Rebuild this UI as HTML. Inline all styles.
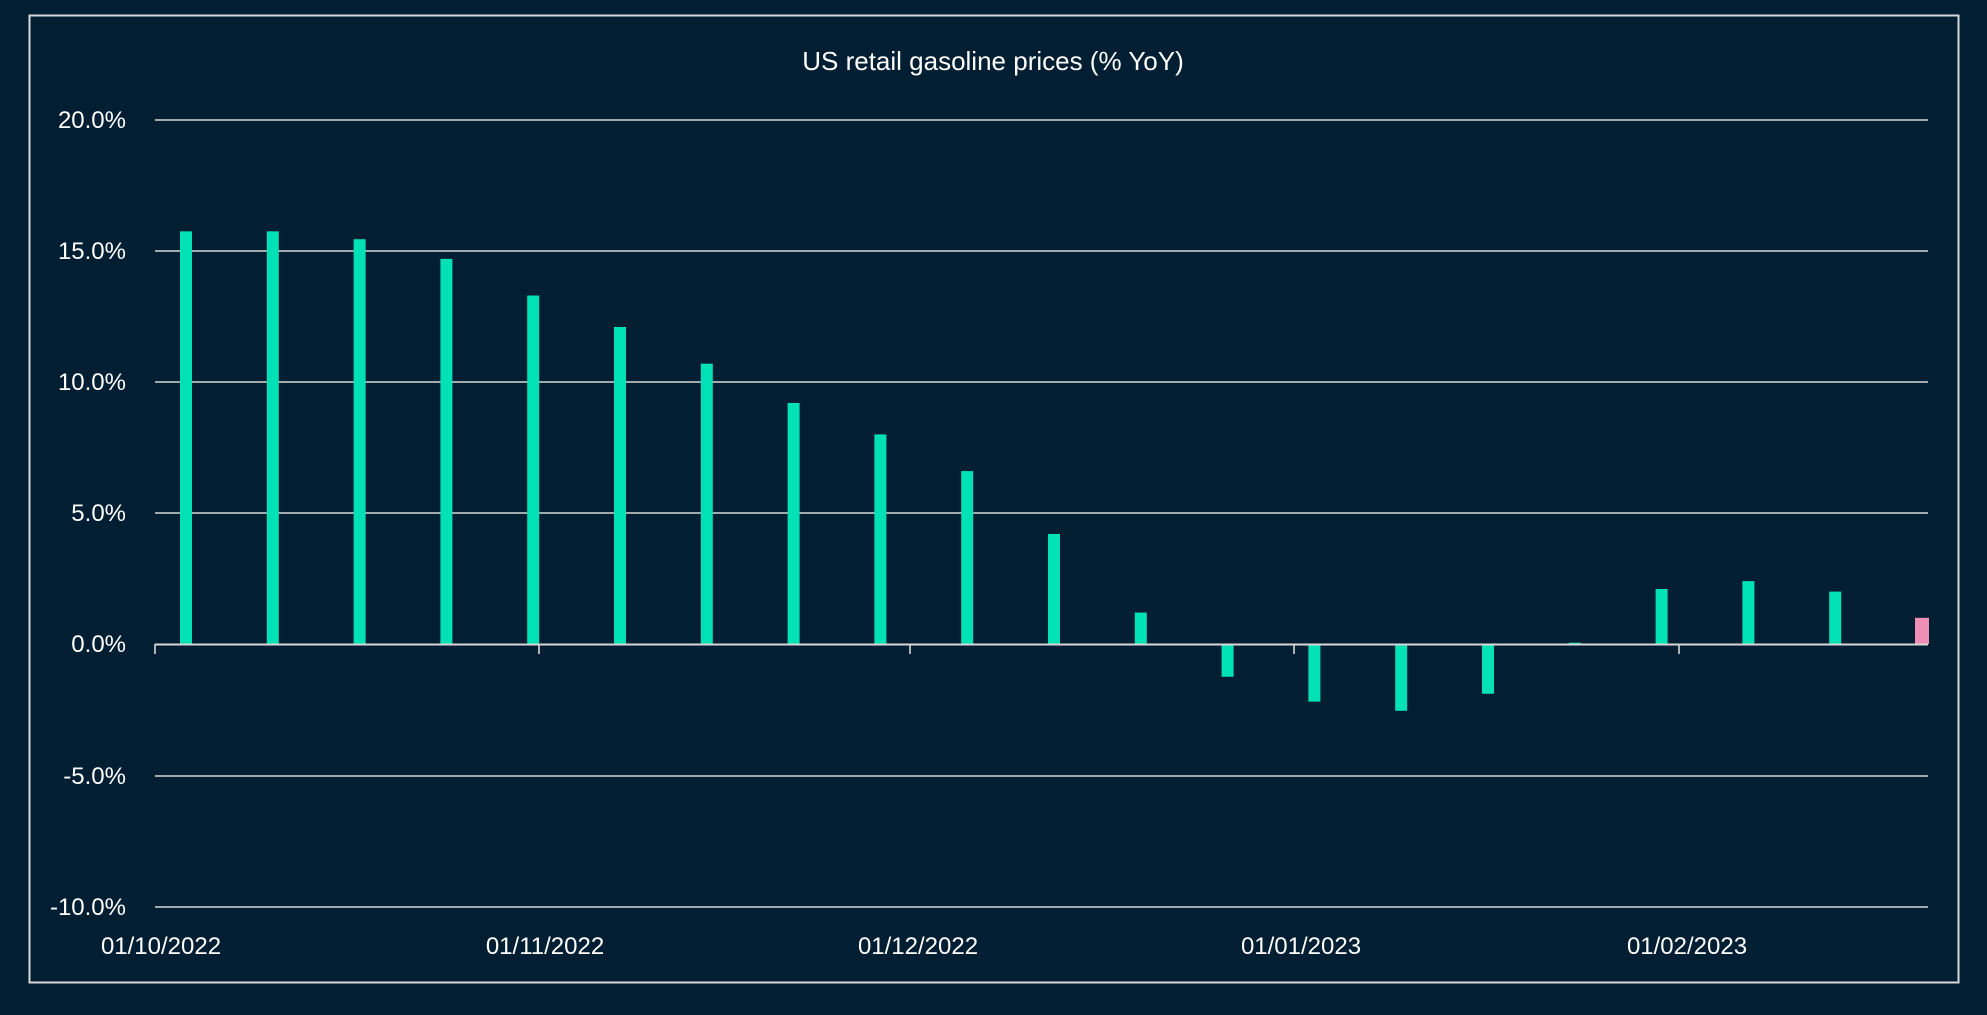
<!DOCTYPE html>
<html><head><meta charset="utf-8"><style>
html,body{margin:0;padding:0;background:#011e32;}
svg{display:block}
text{font-family:"Liberation Sans",sans-serif;fill:#fff}
</style></head><body>
<svg width="1987" height="1015" viewBox="0 0 1987 1015">
<rect width="1987" height="1015" fill="#011e32"/>
<rect x="29.5" y="15.5" width="1929" height="967" fill="none" stroke="#d8d8d8" stroke-width="2"/>
<text x="993" y="70" font-size="26" text-anchor="middle">US retail gasoline prices (% YoY)</text>
<g stroke="#d8d8d8" stroke-width="1.6">
<line x1="155" x2="1928" y1="120" y2="120"/>
<line x1="155" x2="1928" y1="251" y2="251"/>
<line x1="155" x2="1928" y1="382" y2="382"/>
<line x1="155" x2="1928" y1="513" y2="513"/>
<line x1="155" x2="1928" y1="776" y2="776"/>
<line x1="155" x2="1928" y1="907" y2="907"/>
</g>
<g font-size="24" text-anchor="end">
<text x="126" y="128">20.0%</text>
<text x="126" y="259">15.0%</text>
<text x="126" y="390">10.0%</text>
<text x="126" y="521">5.0%</text>
<text x="126" y="652">0.0%</text>
<text x="126" y="784">-5.0%</text>
<text x="126" y="915">-10.0%</text>
</g>
<g fill="#00e2b6" id="bars"></g>
<line x1="155" x2="1928" y1="644.5" y2="644.5" stroke="#d8d8d8" stroke-width="2"/>
<g stroke="#d8d8d8" stroke-width="1.6">
<line x1="155" x2="155" y1="644" y2="654"/>
<line x1="539" x2="539" y1="644" y2="654"/>
<line x1="910" x2="910" y1="644" y2="654"/>
<line x1="1294" x2="1294" y1="644" y2="654"/>
<line x1="1679" x2="1679" y1="644" y2="654"/>
</g>
<g font-size="24" text-anchor="middle">
<text x="161" y="954">01/10/2022</text>
<text x="545" y="954">01/11/2022</text>
<text x="918" y="954">01/12/2022</text>
<text x="1301" y="954">01/01/2023</text>
<text x="1687" y="954">01/02/2023</text>
</g>
</svg>
<script>
var v=[15.75,15.75,15.45,14.7,13.3,12.1,10.7,9.2,8.0,6.6,4.2,1.2,-1.25,-2.2,-2.55,-1.9,0.05,2.1,2.4,2.0,1.0];
var g=document.getElementById('bars'),ns="http://www.w3.org/2000/svg";
for(var i=0;i<v.length;i++){var c=186+i*86.8,h=v[i]*26.2,r=document.createElementNS(ns,'rect');
var w=(i==20)?14:12;r.setAttribute('x',c-w/2);r.setAttribute('width',w);
r.setAttribute('y',h>0?644-h:644);r.setAttribute('height',Math.abs(h));
if(i==20)r.setAttribute('fill','#f08fb5');g.appendChild(r);}
</script>
</body></html>
